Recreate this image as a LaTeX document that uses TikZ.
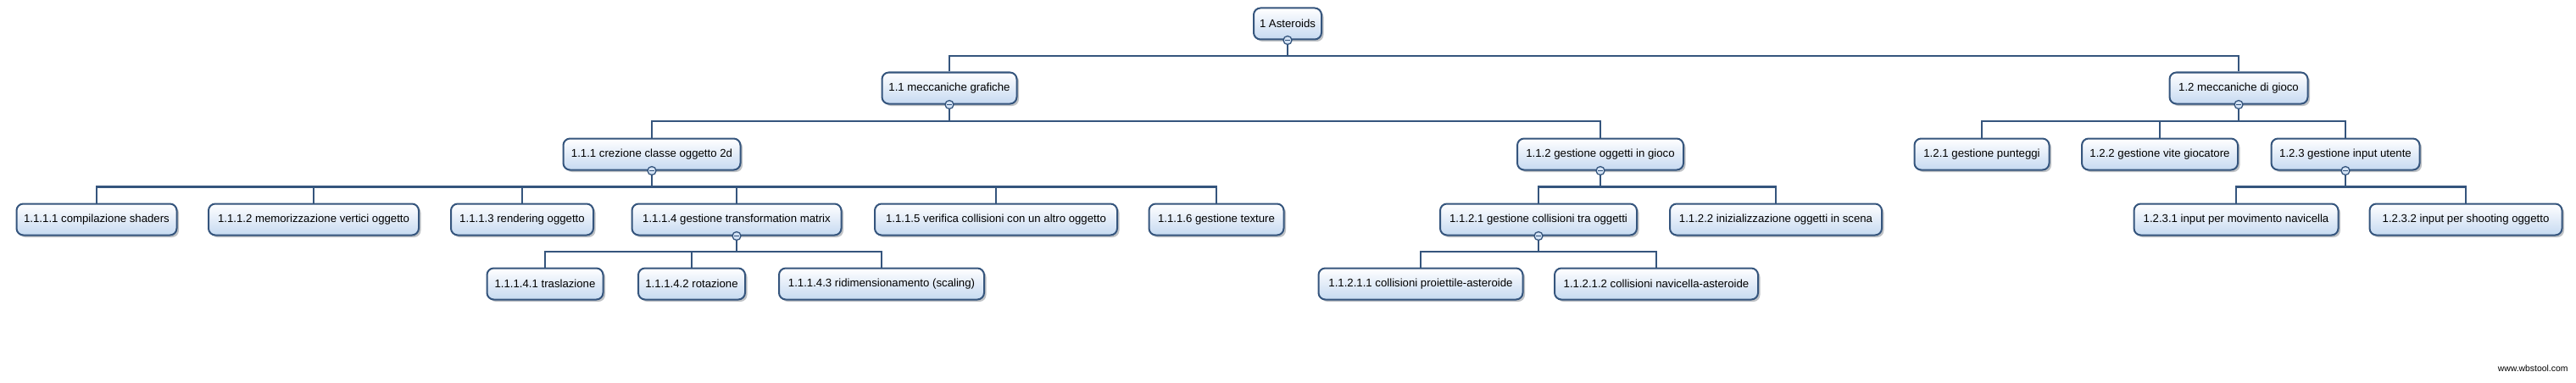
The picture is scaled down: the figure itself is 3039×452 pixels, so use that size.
\documentclass[tikz,border=0pt]{standalone}
\usepackage{fontspec}
\setmainfont{Liberation Sans}
\usepackage{tikz}
\usepackage{xcolor}
\usetikzlibrary{calc,shadows}
\definecolor{wbsline}{HTML}{35557D}
\definecolor{wbsfill}{HTML}{C6DAF1}
\definecolor{foldfill}{HTML}{D4E3F5}
\definecolor{shade}{HTML}{8A8F96}
\tikzset{
  wbsbox/.style={draw=wbsline, line width=2pt, rounded corners=8pt,
                 top color=white, bottom color=wbsfill, text=black,
                 minimum height=37pt, inner xsep=5pt, inner ysep=0pt,
                 font=\fontsize{13.2}{15}\selectfont,
                 drop shadow={shadow xshift=2.5pt, shadow yshift=-2.5pt,
                              fill=shade, opacity=0.55}},
  link/.style={draw=wbsline, line width=2.6pt},
  fold/.style={circle, draw=wbsline, fill=foldfill, line width=1.3pt,
               minimum size=10pt, inner sep=0pt,
               path picture={\draw[wbsline, line width=1.4pt]
                 ([xshift=-3pt]path picture bounding box.center) --
                 ([xshift=3pt]path picture bounding box.center);}}
}
\begin{document}
\begin{tikzpicture}[x=1pt,y=-1pt]
        \useasboundingbox (0,0) rectangle (3039,452);

        % root and first level
        \node[wbsbox,minimum width=80pt] (root) at (1519,28) {1 Asteroids};
        \foreach \n/\x/\w/\lab in {n11/1120/159/{1.1 meccaniche grafiche},
                                  n12/2641/163/{1.2 meccaniche di gioco}}
          {\node[wbsbox,minimum width=\w pt] (\n) at (\x,104) {\lab};}

        % second level
        \foreach \n/\x/\w/\lab in {n111/769/209/{1.1.1 crezione classe oggetto 2d},
                                  n112/1888/196/{1.1.2 gestione oggetti in gioco},
                                  n121/2338/159/{1.2.1 gestione punteggi},
                                  n122/2548/184/{1.2.2 gestione vite giocatore},
                                  n123/2767/175/{1.2.3 gestione input utente}}
          {\node[wbsbox,minimum width=\w pt] (\n) at (\x,182) {\lab};}

        % third level
        \foreach \n/\x/\w/\lab in {n1111/114/189/{1.1.1.1 compilazione shaders},
                                  n1112/370/248/{1.1.1.2 memorizzazione vertici oggetto},
                                  n1113/616/168/{1.1.1.3 rendering oggetto},
                                  n1114/869/247/{1.1.1.4 gestione transformation matrix},
                                  n1115/1175/286/{1.1.1.5 verifica collisioni con un altro oggetto},
                                  n1116/1435/159/{1.1.1.6 gestione texture},
                                  n1121/1815/232/{1.1.2.1 gestione collisioni tra oggetti},
                                  n1122/2095/250/{1.1.2.2 inizializzazione oggetti in scena},
                                  n1231/2638/241/{1.2.3.1 input per movimento navicella},
                                  n1232/2909/227/{1.2.3.2 input per shooting oggetto}}
          {\node[wbsbox,minimum width=\w pt] (\n) at (\x,259) {\lab};}

        % fourth level
        \foreach \n/\x/\w/\lab in {n11141/643/137/{1.1.1.4.1 traslazione},
                                  n11142/816/126/{1.1.1.4.2 rotazione},
                                  n11143/1040/242/{1.1.1.4.3 ridimensionamento (scaling)},
                                  n11211/1676/241/{1.1.2.1.1 collisioni proiettile-asteroide},
                                  n11212/1954/240/{1.1.2.1.2 collisioni navicella-asteroide}}
          {\node[wbsbox,minimum width=\w pt] (\n) at (\x,335) {\lab};}

        % elbow connectors, bus halfway between parent and child
        \foreach \p/\c in {root/n11,root/n12,n11/n111,n11/n112,n12/n121,n12/n122,n12/n123,
                           n111/n1111,n111/n1112,n111/n1113,n111/n1114,n111/n1115,n111/n1116,
                           n112/n1121,n112/n1122,n123/n1231,n123/n1232,
                           n1114/n11141,n1114/n11142,n1114/n11143,n1121/n11211,n1121/n11212}
          {\draw[link] (\p.south) |- ($(\p.south)!.5!(\c.north)$) -| (\c.north);}

        % collapse markers
        \foreach \p in {root,n11,n12,n111,n112,n123,n1114,n1121}
          {\node[fold] (\p-fold) at (\p.south) {};}

        \node[font=\fontsize{10.4}{12}\selectfont,anchor=east] (credit) at (3033,435) {www.wbstool.com};
      \end{tikzpicture}
\end{document}
